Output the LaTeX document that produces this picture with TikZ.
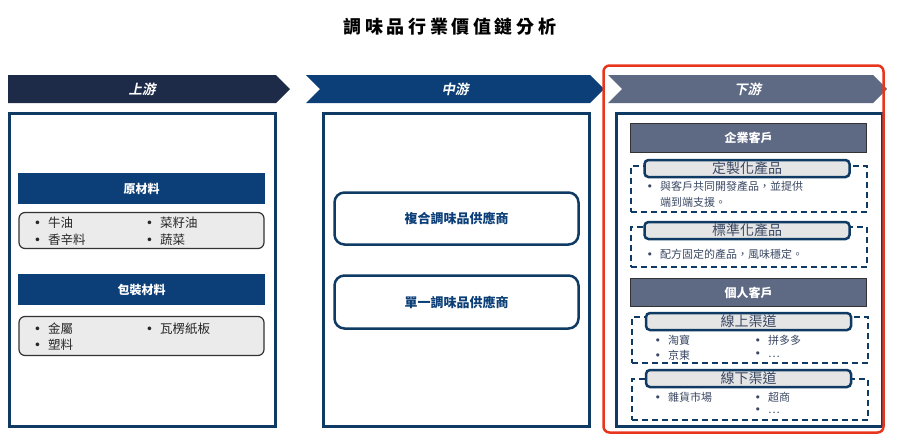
\documentclass[tikz,border=0pt]{standalone}
\usepackage{fontspec}
\setmainfont{Noto Sans CJK TC}
\newfontfamily\slfont{Noto Sans CJK TC Bold}[FakeSlant=0.2]
\newfontfamily\bulfont{DejaVu Sans}
\usetikzlibrary{shapes.symbols}
\definecolor{upnavy}{HTML}{1E2B48}
\definecolor{midblue}{HTML}{0C3F78}
\definecolor{downgrey}{HTML}{5E6A84}
\definecolor{pnl}{HTML}{0E3A63}
\definecolor{itemtxt}{HTML}{3A4863}
\definecolor{frame}{HTML}{E8361E}
\newcommand\bul{\llap{{\bulfont •}\hspace{7pt}}}

\begin{document}
\begin{tikzpicture}
[x=1pt,y=-1pt,
every node/.style={inner sep=0pt},
arr/.style={signal,signal to=east,minimum height=28pt,text=white,font=\slfont\fontsize{13.5}{13.5}\selectfont},
panel/.style={draw=pnl,line width=3pt,minimum width=266pt,minimum height=313pt},
hdr/.style={fill=midblue,text=white,font=\bfseries\fontsize{12}{12}\selectfont,minimum width=247pt,minimum height=31pt},
lstbox/.style={draw=black!80,fill=black!8,line width=1.2pt,rounded corners=6pt,minimum width=245pt},
lstitem/.style={anchor=west,text=black!85,font=\fontsize{12.5}{15}\selectfont},
supbox/.style={draw=pnl,line width=2.5pt,rounded corners=10pt,minimum width=244pt,text=midblue,font=\bfseries\fontsize{13}{13}\selectfont},
cust/.style={draw=black!80,fill=downgrey,line width=1pt,text=white,font=\bfseries\fontsize{12}{12}\selectfont,minimum width=236pt},
grp/.style={draw=pnl,line width=2pt,dash pattern=on 6pt off 4pt,minimum width=236pt},
pill/.style={draw=pnl,fill=black!10,line width=2.5pt,rounded corners=4pt,minimum width=205pt,minimum height=17pt,text=itemtxt,font=\fontsize{14}{14}\selectfont},
subitem/.style={anchor=west,text=itemtxt,font=\fontsize{11}{16}\selectfont,align=left},
]
\useasboundingbox (0,0) rectangle (900,440);
% title
\node (title) at (450,27) {\bfseries\fontsize{18}{18}\selectfont\addfontfeatures{LetterSpace=20}調味品行業價值鏈分析};

% stage arrows
\node[arr,fill=upnavy,minimum width=282pt] (up) at (142,89) {上游};
\node[arr,signal from=west,fill=midblue,minimum width=298pt] (mid) at (455,89) {中游};
\node[arr,signal from=west,fill=downgrey,minimum width=279pt] (down) at (747.5,89) {下游};

% panels
\node[panel] (p1) at (142.5,270) {};
\node[panel] (p2) at (456.5,270) {};
\node[panel] (p3) at (749.5,270) {};

% upstream
\node[hdr] (raw) at (141.5,188.5) {原材料};
\node[lstbox,minimum height=36pt] (rawlst) at (141.5,230.5) {};
\node[lstitem] (r1) at (48,223) {\bul 牛油};
\node[lstitem] (r2) at (48,240) {\bul 香辛料};
\node[lstitem] (r3) at (160,223) {\bul 菜籽油};
\node[lstitem] (r4) at (160,240) {\bul 蔬菜};
\node[hdr] (pack) at (141.5,289.5) {包裝材料};
\node[lstbox,minimum height=39pt] (packlst) at (141.5,336) {};
\node[lstitem] (k1) at (48,329) {\bul 金屬};
\node[lstitem] (k2) at (48,345) {\bul 塑料};
\node[lstitem] (k3) at (160,329) {\bul 瓦楞紙板};

% midstream
\node[supbox,minimum height=52pt] (comp) at (456.5,218.5) {複合調味品供應商};
\node[supbox,minimum height=53pt] (single) at (456.5,302) {單一調味品供應商};

% downstream
\node[cust,minimum height=29pt] (biz) at (748.5,138) {企業客戶};
\node[grp,minimum height=46pt] (g1) at (748.5,188.5) {};
\node[pill] (custom) at (747,168.5) {定製化產品};
\node[subitem,anchor=north west] (c1) at (660,181) {\bul 與客戶共同開發產品，並提供\\端到端支援。};
\node[grp,minimum height=40pt] (g2) at (748.5,246.5) {};
\node[pill] (std) at (747,230.5) {標準化產品};
\node[subitem] (s1) at (660,254) {\bul 配方固定的產品，風味穩定。};

\node[cust,minimum height=28pt] (person) at (748.5,292.5) {個人客戶};
\node[grp,minimum height=46pt] (g3) at (749.5,339.5) {};
\node[pill] (online) at (748.5,321.5) {線上渠道};
\node[subitem] (o1) at (668,340) {\bul 淘寶};
\node[subitem] (o2) at (668,355) {\bul 京東};
\node[subitem] (o3) at (768,340) {\bul 拼多多};
\node[subitem] (o4) at (768,355) {\bul …};
\node[grp,minimum height=41pt] (g4) at (749.5,399) {};
\node[pill] (offline) at (748.5,378.5) {線下渠道};
\node[subitem] (f1) at (668,397) {\bul 雜貨市場};
\node[subitem] (f2) at (768,397) {\bul 超商};
\node[subitem] (f3) at (768,411) {\bul …};

% highlight frame
\node[draw=frame,line width=2.5pt,rounded corners=6pt,minimum width=280pt,minimum height=367pt] (hl) at (743.5,249) {};
\end{tikzpicture}
\end{document}
